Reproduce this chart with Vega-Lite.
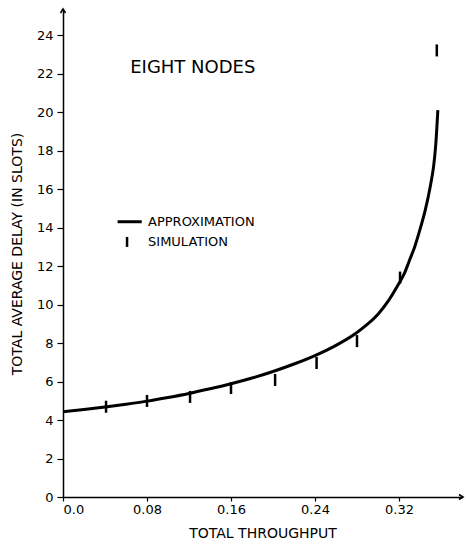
{
  "$schema": "https://vega.github.io/schema/vega-lite/v6.json",
  "width": 399,
  "height": 487,
  "autosize": "none",
  "padding": {"left": 63, "top": 10, "right": 4, "bottom": 48},
  "background": "white",
  "config": {
    "view": {"stroke": null},
    "font": "DejaVu Sans",
    "axis": {
      "domainColor": "black", "domainWidth": 1.5, "tickColor": "black", "tickWidth": 1.2,
      "labelColor": "black", "titleColor": "black", "labelFont": "DejaVu Sans", "titleFont": "DejaVu Sans",
      "titleFontWeight": "normal", "grid": false, "labelFontSize": 13, "titleFontSize": 14
    }
  },
  "datasets": {
    "approx": [
      {"t": 0.0, "d": 4.43}, {"t": 0.02, "d": 4.55}, {"t": 0.04, "d": 4.68}, {"t": 0.06, "d": 4.82},
      {"t": 0.08, "d": 4.98}, {"t": 0.10, "d": 5.17}, {"t": 0.12, "d": 5.38}, {"t": 0.14, "d": 5.62},
      {"t": 0.16, "d": 5.88}, {"t": 0.18, "d": 6.18}, {"t": 0.20, "d": 6.52}, {"t": 0.22, "d": 6.91},
      {"t": 0.24, "d": 7.35}, {"t": 0.26, "d": 7.88}, {"t": 0.28, "d": 8.55}, {"t": 0.29, "d": 8.98},
      {"t": 0.30, "d": 9.5}, {"t": 0.31, "d": 10.2}, {"t": 0.32, "d": 11.1}, {"t": 0.325, "d": 11.6},
      {"t": 0.33, "d": 12.3}, {"t": 0.335, "d": 13.0}, {"t": 0.34, "d": 13.9}, {"t": 0.345, "d": 14.9},
      {"t": 0.35, "d": 16.2}, {"t": 0.353, "d": 17.2}, {"t": 0.355, "d": 18.3}, {"t": 0.357, "d": 20.1}
    ],
    "sim": [
      {"t": 0.041, "d": 4.69}, {"t": 0.08, "d": 4.99}, {"t": 0.121, "d": 5.2}, {"t": 0.16, "d": 5.66},
      {"t": 0.202, "d": 6.08}, {"t": 0.2415, "d": 6.96}, {"t": 0.28, "d": 8.1}, {"t": 0.321, "d": 11.4},
      {"t": 0.356, "d": 23.2}
    ],
    "legendLine": [{"t": 0.052, "d": 14.3}, {"t": 0.075, "d": 14.3}],
    "legendSim": [{"t": 0.061, "d": 13.25}],
    "labels": [
      {"t": 0.064, "d": 22.3, "label": "EIGHT NODES", "size": 18},
      {"t": 0.081, "d": 14.3, "label": "APPROXIMATION", "size": 13},
      {"t": 0.081, "d": 13.25, "label": "SIMULATION", "size": 13}
    ],
    "arrows": [{"t": 0, "d": 25.3, "dir": "up"}, {"t": 0.38, "d": 0, "dir": "right"}]
  },
  "layer": [
    {
      "data": {"name": "approx"},
      "mark": {"type": "line", "color": "black", "strokeWidth": 3, "interpolate": "monotone"},
      "encoding": {
        "x": {"field": "t", "type": "quantitative", "scale": {"domain": [0, 0.38], "nice": false},
          "axis": {"values": [0, 0.08, 0.16, 0.24, 0.32], "title": "TOTAL THROUGHPUT", "tickSize": 4, "labelPadding": 2, "titlePadding": 10,
            "labelExpr": "datum.value == 0 ? '0.0' : format(datum.value, '.2f')"}},
        "y": {"field": "d", "type": "quantitative", "scale": {"domain": [0, 25.3], "nice": false},
          "axis": {"values": [0, 2, 4, 6, 8, 10, 12, 14, 16, 18, 20, 22, 24], "title": "TOTAL AVERAGE DELAY (IN SLOTS)", "tickSize": 6, "labelPadding": 4, "titlePadding": 12}}
      }
    },
    {
      "data": {"name": "sim"},
      "mark": {"type": "tick", "orient": "vertical", "color": "black", "opacity": 1, "size": 12, "thickness": 2.5},
      "encoding": {"x": {"field": "t", "type": "quantitative"}, "y": {"field": "d", "type": "quantitative"}}
    },
    {
      "data": {"name": "legendLine"},
      "mark": {"type": "line", "color": "black", "strokeWidth": 3},
      "encoding": {"x": {"field": "t", "type": "quantitative"}, "y": {"field": "d", "type": "quantitative"}}
    },
    {
      "data": {"name": "legendSim"},
      "mark": {"type": "tick", "orient": "vertical", "color": "black", "opacity": 1, "size": 10, "thickness": 2.5},
      "encoding": {"x": {"field": "t", "type": "quantitative"}, "y": {"field": "d", "type": "quantitative"}}
    },
    {
      "data": {"name": "labels"},
      "mark": {"type": "text", "align": "left", "baseline": "middle", "color": "black", "font": "DejaVu Sans"},
      "encoding": {
        "x": {"field": "t", "type": "quantitative"}, "y": {"field": "d", "type": "quantitative"},
        "text": {"field": "label"}, "size": {"field": "size", "type": "quantitative", "scale": null}
      }
    },
    {
      "data": {"name": "arrows"},
      "mark": {"type": "point", "filled": false, "color": "black", "opacity": 1, "strokeWidth": 1.6, "size": 100, "clip": false},
      "encoding": {
        "x": {"field": "t", "type": "quantitative"}, "y": {"field": "d", "type": "quantitative"},
        "shape": {"field": "dir", "type": "nominal", "scale": {"domain": ["up", "right"], "range": ["M -0.5 0.6 L 0 -0.2 L 0.5 0.6", "M -0.6 -0.5 L 0.2 0 L -0.6 0.5"]}, "legend": null}
      }
    }
  ]
}
